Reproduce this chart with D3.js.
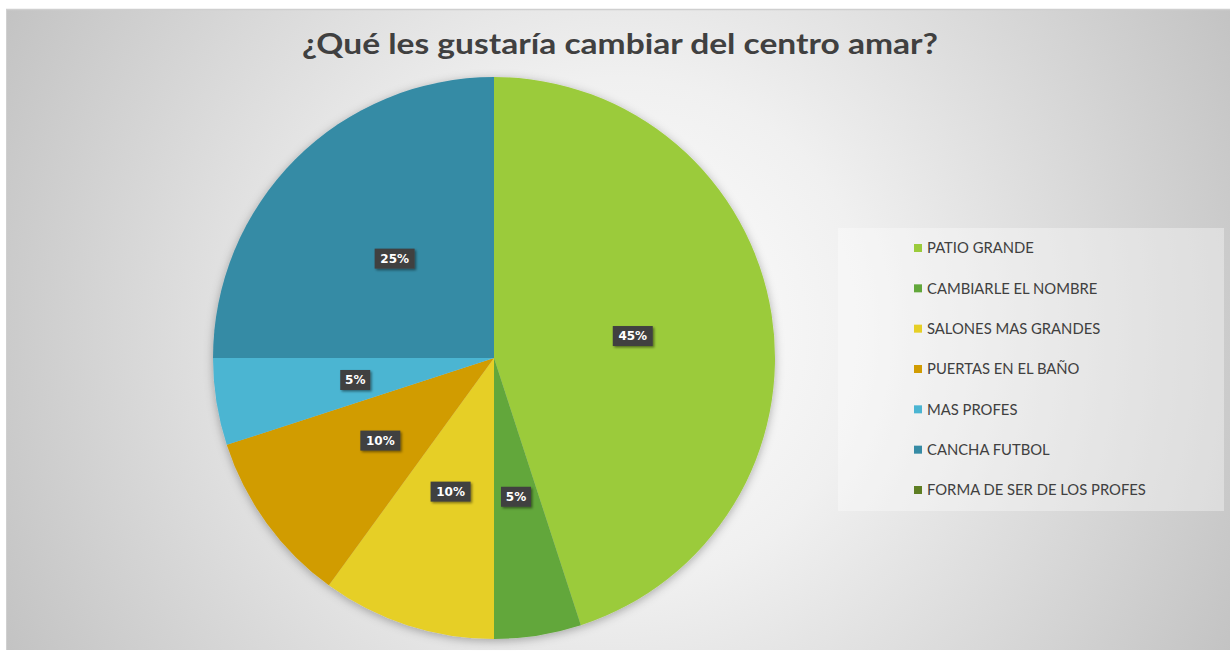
<!DOCTYPE html>
<html><head><meta charset="utf-8">
<script src="https://cdn.jsdelivr.net/npm/d3@7"></script>
<style>body{margin:0;background:#fff;}svg{display:block;}</style>
</head><body>
<svg id="chart" width="1230" height="651"></svg>
<script>
const title = "¿Qué les gustaría cambiar del centro amar?";
const categories = ["PATIO GRANDE","CAMBIARLE EL NOMBRE","SALONES MAS GRANDES","PUERTAS EN EL BAÑO","MAS PROFES","CANCHA FUTBOL","FORMA DE SER DE LOS PROFES"];
const values = [45,5,10,10,5,25,0];
const colors = ["#9BCB3B","#62A73B","#E6CF26","#D19C02","#4BB5D2","#368BA5","#5E7E23"];

const svg = d3.select("#chart");
const W = 1230, H = 651;
const defs = svg.append("defs");
const rg = defs.append("radialGradient").attr("id","bg").attr("gradientUnits","userSpaceOnUse")
  .attr("cx",620).attr("cy",330).attr("r",720);
rg.append("stop").attr("offset","0%").attr("stop-color","#ffffff");
rg.append("stop").attr("offset","35%").attr("stop-color","#f0f0f0");
rg.append("stop").attr("offset","100%").attr("stop-color","#c0c0c0");
const sh = defs.append("filter").attr("id","shadow").attr("x","-20%").attr("y","-20%").attr("width","140%").attr("height","140%");
sh.append("feDropShadow").attr("dx",0).attr("dy",2).attr("stdDeviation",5).attr("flood-color","#000").attr("flood-opacity",0.3);
const lsh = defs.append("filter").attr("id","lshadow").attr("x","-30%").attr("y","-30%").attr("width","160%").attr("height","160%");
lsh.append("feDropShadow").attr("dx",1.5).attr("dy",1.5).attr("stdDeviation",1).attr("flood-color","#000").attr("flood-opacity",0.45);

svg.append("rect").attr("x",6).attr("y",9).attr("width",W-6).attr("height",641).attr("fill","url(#bg)");
svg.append("line").attr("x1",6).attr("x2",W).attr("y1",9.5).attr("y2",9.5).attr("stroke","#cfcfcf").attr("stroke-width",1.5);
svg.append("line").attr("x1",6.5).attr("x2",6.5).attr("y1",9).attr("y2",650).attr("stroke","#d0d0d0").attr("stroke-width",1);

svg.append("text").attr("x",620).attr("y",54).attr("text-anchor","middle")
  .attr("font-family","Lato, sans-serif").attr("font-weight","bold").attr("font-size",29)
  .attr("fill","#404040").attr("textLength",636).attr("lengthAdjust","spacingAndGlyphs").text(title);

const cx = 494, cy = 358, R = 281;
const pie = d3.pie().sort(null).value(d => d.v);
const data = categories.map((c,i)=>({c, v: values[i], col: colors[i]}));
const arcs = pie(data);
const arc = d3.arc().innerRadius(0).outerRadius(R);
const g = svg.append("g").attr("transform",`translate(${cx},${cy})`);
g.append("g").attr("filter","url(#shadow)").selectAll("path").data(arcs.filter(a=>a.data.v>0)).join("path")
  .attr("d",arc).attr("fill",d=>d.data.col);

const labs = g.selectAll("g.lab").data(arcs.filter(a=>a.data.v>0)).join("g").attr("class","lab")
  .attr("transform",d=>{const [x,y]=arc.centroid(d);return `translate(${x},${y})`;});
labs.append("rect").attr("x",d=>d.data.v>=10?-20:-15).attr("y",-10).attr("width",d=>d.data.v>=10?40:30).attr("height",20)
  .attr("fill","#404040").attr("filter","url(#lshadow)");
labs.append("text").attr("text-anchor","middle").attr("dy","0.36em")
  .attr("font-family","'DejaVu Sans', sans-serif").attr("font-weight","bold").attr("font-size",12)
  .attr("fill","#fff").text(d=>d.data.v+"%");

// legend
svg.append("rect").attr("x",838).attr("y",228).attr("width",386).attr("height",283).attr("fill","#ffffff").attr("fill-opacity",0.35);
const lg = svg.append("g");
const rowY = d3.scaleLinear().domain([0,categories.length-1]).range([248,490]);
const items = lg.selectAll("g").data(data).join("g").attr("transform",(d,i)=>`translate(914,${rowY(i)})`);
items.append("rect").attr("x",0).attr("y",-4).attr("width",8).attr("height",8).attr("fill",d=>d.col);
items.append("text").attr("x",13).attr("dy","0.36em").attr("font-family","Lato, sans-serif").attr("font-size",14.8)
  .attr("fill","#404040").text(d=>d.c);
</script>
</body></html>
